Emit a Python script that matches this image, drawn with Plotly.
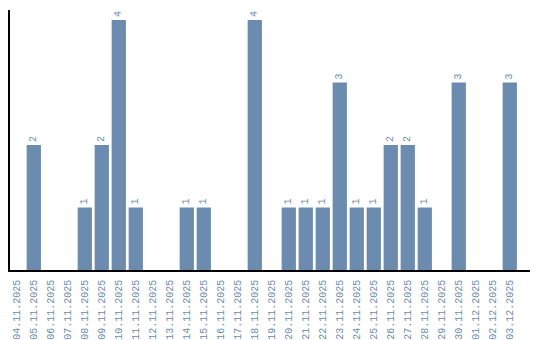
import plotly.graph_objects as go

dates = ["04.11.2025", "05.11.2025", "06.11.2025", "07.11.2025", "08.11.2025",
         "09.11.2025", "10.11.2025", "11.11.2025", "12.11.2025", "13.11.2025",
         "14.11.2025", "15.11.2025", "16.11.2025", "17.11.2025", "18.11.2025",
         "19.11.2025", "20.11.2025", "21.11.2025", "22.11.2025", "23.11.2025",
         "24.11.2025", "25.11.2025", "26.11.2025", "27.11.2025", "28.11.2025",
         "29.11.2025", "30.11.2025", "01.12.2025", "02.12.2025", "03.12.2025"]
counts = [0, 2, 0, 0, 1, 2, 4, 1, 0, 0, 1, 1, 0, 0, 4, 0, 1, 1, 1, 3,
          1, 1, 2, 2, 1, 0, 3, 0, 0, 3]

color = "#6b8cae"
labels = [str(v) if v > 0 else "" for v in counts]

fig = go.Figure(go.Bar(
    x=dates, y=counts, marker_color=color, marker_line_width=0,
    text=labels, textposition="outside", textangle=-90,
    textfont=dict(family="Liberation Mono", size=10, color=color),
    cliponaxis=False,
))
fig.update_layout(
    width=540, height=340, margin=dict(l=10, r=10, t=10, b=70),
    plot_bgcolor="white", paper_bgcolor="white", bargap=0.16,
    showlegend=False,
    font=dict(family="Liberation Mono", size=10, color=color),
)
fig.update_xaxes(type="category", range=[-0.4, 30.19], tickangle=-90,
                 showline=True, linecolor="black", linewidth=1.5,
                 showgrid=False, ticks="outside", ticklen=4, tickcolor="rgba(0,0,0,0)",
                 automargin=False, tickfont=dict(color=color, size=10))
fig.update_yaxes(range=[0, 4.16], showline=True, linecolor="black", linewidth=1.5,
                 showgrid=False, showticklabels=False, ticks="", zeroline=False,
                 automargin=False)
fig.write_html("out.html")
